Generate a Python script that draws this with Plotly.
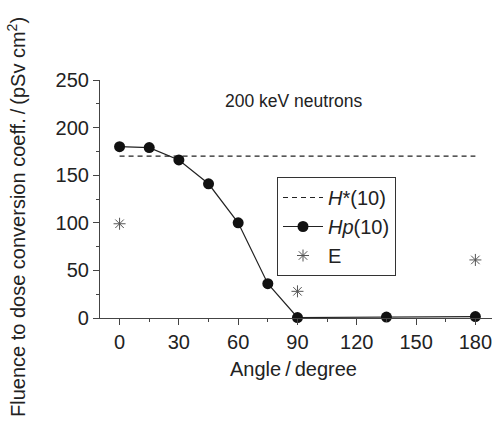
import plotly.graph_objects as go

angles_hp = [0, 15, 30, 45, 60, 75, 90, 135, 180]
hp10 = [180, 179, 166, 141, 100, 36, 0.5, 1, 1.5]
angles_e = [0, 90, 180]
e_vals = [99, 28, 61]
hstar_x = [0, 180]
hstar_y = [170, 170]
xticks = [0, 30, 60, 90, 120, 150, 180]
yticks = [0, 50, 100, 150, 200, 250]

FONT = "Liberation Sans, Arial, sans-serif"
W, H = 492, 433
# plot area in screenshot pixels: x 100..492, y 80..318
L, R, T, B = 100, 0, 80, 433 - 318
pw, ph = W - L - R, H - T - B

def px(xs):
    return (xs - L) / pw

def py(ys):
    return (H - B - ys) / ph

fig = go.Figure()
fig.add_trace(go.Scatter(x=hstar_x, y=hstar_y, mode="lines", name="<i>H</i>*(10)",
                         line=dict(color="#222", width=1.2, dash="5px,4px")))
fig.add_trace(go.Scatter(x=angles_hp, y=hp10, mode="lines+markers", name="<i>Hp</i>(10)",
                         line=dict(color="#222", width=1.2),
                         marker=dict(symbol="circle", size=11, color="#111"), cliponaxis=False))
fig.add_trace(go.Scatter(x=angles_e, y=e_vals, mode="markers", name="E",
                         marker=dict(symbol="asterisk-open", size=10, color="#555",
                                     line=dict(width=1, color="#555")), cliponaxis=False))

fig.add_annotation(x=88, y=228, text="200 keV neutrons", showarrow=False,
                   font=dict(size=17.5, color="#222", family=FONT))
fig.add_annotation(xref="paper", yref="paper", x=px(293), y=py(369),
                   text="Angle\u2009/\u2009degree", showarrow=False,
                   xanchor="center", yanchor="middle",
                   font=dict(size=20, color="#222", family=FONT))
fig.add_annotation(xref="paper", yref="paper", x=px(16), y=py(217),
                   text="Fluence to dose conversion coeff.\u2009/\u2009(pSv cm<sup>2</sup>)",
                   showarrow=False, textangle=-90, xanchor="center", yanchor="middle",
                   font=dict(size=20, color="#222", family=FONT))

axis_common = dict(ticks="outside", ticklen=6, tickcolor="#444", showline=True,
                   linecolor="#444", linewidth=1.2, showgrid=False, zeroline=False,
                   automargin=False, tickfont=dict(size=20, family=FONT, color="#222"))

fig.update_layout(
    width=W, height=H,
    margin=dict(l=L, r=R, t=T, b=B),
    paper_bgcolor="white", plot_bgcolor="white",
    font=dict(family=FONT, color="#222", size=20),
    showlegend=True,
    legend=dict(x=px(277), y=py(177), xanchor="left", yanchor="top",
                bordercolor="#333", borderwidth=1, bgcolor="white",
                font=dict(size=20, family=FONT), tracegroupgap=0, itemwidth=40),
    xaxis=dict(range=[-9.9, 188.4], tickvals=xticks, ticklabeloverflow="allow",
               minor=dict(tickvals=[15, 45, 75, 105, 135, 165], ticks="outside", ticklen=3, tickcolor="#444"),
               **axis_common),
    yaxis=dict(range=[0, 250], tickvals=yticks,
               minor=dict(tickvals=[25, 75, 125, 175, 225], ticks="outside", ticklen=3, tickcolor="#444"),
               **axis_common),
)
fig.write_html("out.html", config={"displayModeBar": False},
               post_script="document.body.style.margin='0';document.body.style.overflow='hidden';")
